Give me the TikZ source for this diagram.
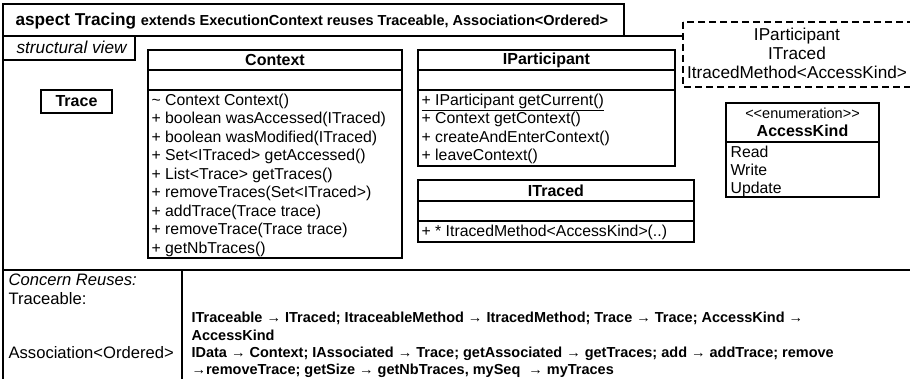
\documentclass[tikz,border=0pt]{standalone}
\usepackage{fontspec}
\setmainfont{Liberation Sans}
\usetikzlibrary{positioning}

\tikzset{
  member/.style={inner sep=0pt, anchor=base west, font=\fontsize{15.8}{18}\selectfont},
  label/.style={inner sep=0pt, anchor=base west, font=\fontsize{16.6}{18}\selectfont},
  classname/.style={inner sep=0pt, font=\fontsize{16}{18}\selectfont\bfseries},
  mapping/.style={inner sep=0pt, anchor=base west, font=\fontsize{14.5}{16}\selectfont\bfseries},
}

\begin{document}
\begin{tikzpicture}[x=1pt, y=-1pt, line width=1.2pt]
    \useasboundingbox (0,0) rectangle (910,379);
    \clip (0,0) rectangle (910,379);

    % cadre de l'aspect et titre
    \draw (3,36) rectangle (930,400);
    \draw (3,4) rectangle (624,36);
    \node[inner sep=0pt, anchor=base west] (title) at (15,26)
        {\fontsize{17.2}{18}\selectfont\bfseries aspect Tracing
         \fontsize{14.5}{18}\selectfont extends ExecutionContext reuses Traceable, Association<Ordered>};

    % parametres (boite pointillee)
    \draw[dash pattern=on 7pt off 4pt, fill=white] (683,22) rectangle (915,87);
    \node[inner sep=0pt, align=center, font=\fontsize{17.2}{19}\selectfont] (params) at (797,53)
        {IParticipant\\ITraced\\ItracedMethod<AccessKind>};

    % vue structurelle
    \draw (3,36) rectangle (135,60);
    \node[label, font=\fontsize{17.2}{18}\selectfont\itshape] (view) at (16,54) {structural view};

    % classe Trace
    \draw (41,90) rectangle (112,113);
    \node[classname] (trace) at (76.5,101.5) {Trace};

    % classe Context
    \draw (148,50) rectangle (402,258);
    \draw (148,70) -- (402,70) (148,90) -- (402,90);
    \node[classname] (context) at (275,60) {Context};
    \foreach \m [count=\i] in {\textasciitilde{} Context Context(),
        + boolean wasAccessed(ITraced), + boolean wasModified(ITraced),
        + Set<ITraced> getAccessed(), + List<Trace> getTraces(),
        + removeTraces(Set<ITraced>), + addTrace(Trace trace),
        + removeTrace(Trace trace), + getNbTraces()} {
        \node[member] (ctx\i) at (151,87+18.5*\i) {\m};
    }

    % classe IParticipant
    \draw (418,50) rectangle (675,166);
    \draw (418,70) -- (675,70) (418,90) -- (675,90);
    \node[classname] (participant) at (546.5,60) {IParticipant};
    \foreach \m [count=\i] in {\underline{+ IParticipant getCurrent()},
        + Context getContext(), + createAndEnterContext(), + leaveContext()} {
        \node[member] (part\i) at (421,87+18.5*\i) {\m};
    }

    % classe ITraced
    \draw (418,180) rectangle (694,242);
    \draw (418,201) -- (694,201) (418,221) -- (694,221);
    \node[classname] (traced) at (556,190.5) {ITraced};
    \node[member] (traced1) at (421,237) {+ * ItracedMethod<AccessKind>(..)};

    % enumeration AccessKind
    \draw (726,103) rectangle (879,197);
    \draw (726,142) -- (879,142);
    \node[inner sep=0pt, font=\fontsize{14.5}{16}\selectfont] (stereo) at (802.5,113) {<{}<enumeration>{}>};
    \node[classname] (kind) at (802.5,131) {AccessKind};
    \foreach \m [count=\i] in {Read, Write, Update} {
        \node[member] (kind\i) at (730,140+17.8*\i) {\m};
    }

    % reutilisations
    \draw (3,270) -- (930,270);
    \draw (182,270) -- (182,400);
    \node[label, font=\fontsize{16.6}{18}\selectfont\itshape] (reuses) at (8,286) {Concern Reuses:};
    \node[label] (traceable) at (8,305) {Traceable:};
    \node[label] (association) at (8,358) {Association<Ordered>};
    \node[mapping] (map1) at (191,323) {ITraceable → ITraced; ItraceableMethod → ItracedMethod; Trace → Trace; AccessKind →};
    \node[mapping] (map2) at (191,340) {AccessKind};
    \node[mapping] (map3) at (191,357) {IData → Context; IAssociated → Trace; getAssociated → getTraces; add → addTrace; remove};
    \node[mapping] (map4) at (191,374) {→removeTrace; getSize → getNbTraces, mySeq \ → myTraces};
\end{tikzpicture}
\end{document}
